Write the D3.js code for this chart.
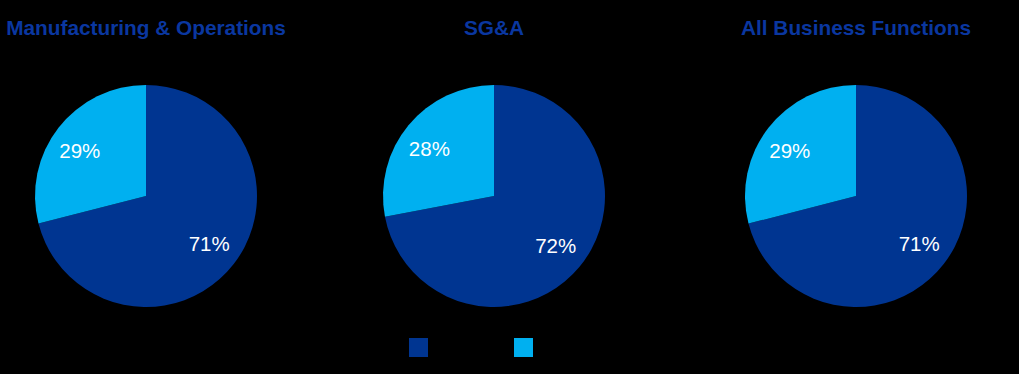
<!DOCTYPE html>
<html><head><meta charset="utf-8">
<script src="https://cdn.jsdelivr.net/npm/d3@7"></script>
<style>html,body{margin:0;padding:0;background:#000;}svg{display:block;}</style>
</head><body>
<svg id="c" width="1019" height="374"></svg>
<script>
const titles = ["Manufacturing & Operations", "SG&A", "All Business Functions"];
const seriesNames = ["Series 1", "Series 2"];
const darkValues = [71, 72, 71];
const lightValues = [29, 28, 29];
const colors = ["#003591", "#00B0F0"];

const svg = d3.select("#c");
const x = d3.scaleOrdinal().domain(titles).range([146, 494, 856]);
const r = 111, cy = 196;
const pie = d3.pie().sort(null).value(d => d.v);
const arc = d3.arc().innerRadius(0).outerRadius(r);
const labelArc = d3.arc().innerRadius(80).outerRadius(80);
const font = "Liberation Sans, Arial, sans-serif";

titles.forEach((t, i) => {
  const g = svg.append("g").attr("transform", `translate(${x(t)},${cy})`);
  const data = [{v: darkValues[i], c: colors[0]}, {v: lightValues[i], c: colors[1]}];
  const arcs = pie(data);
  g.selectAll("path").data(arcs).join("path").attr("d", arc).attr("fill", d => d.data.c);
  g.selectAll("text").data(arcs).join("text")
    .attr("transform", d => {
      const [cx, cyy] = labelArc.centroid(d);
      return d.index === 1 ? `translate(${cx - 3},${cyy + 4})` : `translate(${cx},${cyy - 1})`;
    })
    .attr("text-anchor", "middle").attr("dy", "0.35em")
    .attr("fill", "#fff").attr("font-family", font)
    .attr("font-size", 20.5).text(d => d.data.v + "%");
  svg.append("text").attr("x", x(t)).attr("y", 35).attr("text-anchor", "middle")
    .attr("fill", "#0a37a0").attr("font-family", font)
    .attr("font-weight", "bold").attr("font-size", 20.8).text(t);
});

const lx = d3.scalePoint().domain(seriesNames).range([409, 514]);
seriesNames.forEach((s, i) => {
  svg.append("rect").attr("x", lx(s)).attr("y", 338).attr("width", 19).attr("height", 19).attr("fill", colors[i]);
});
</script>
</body></html>
